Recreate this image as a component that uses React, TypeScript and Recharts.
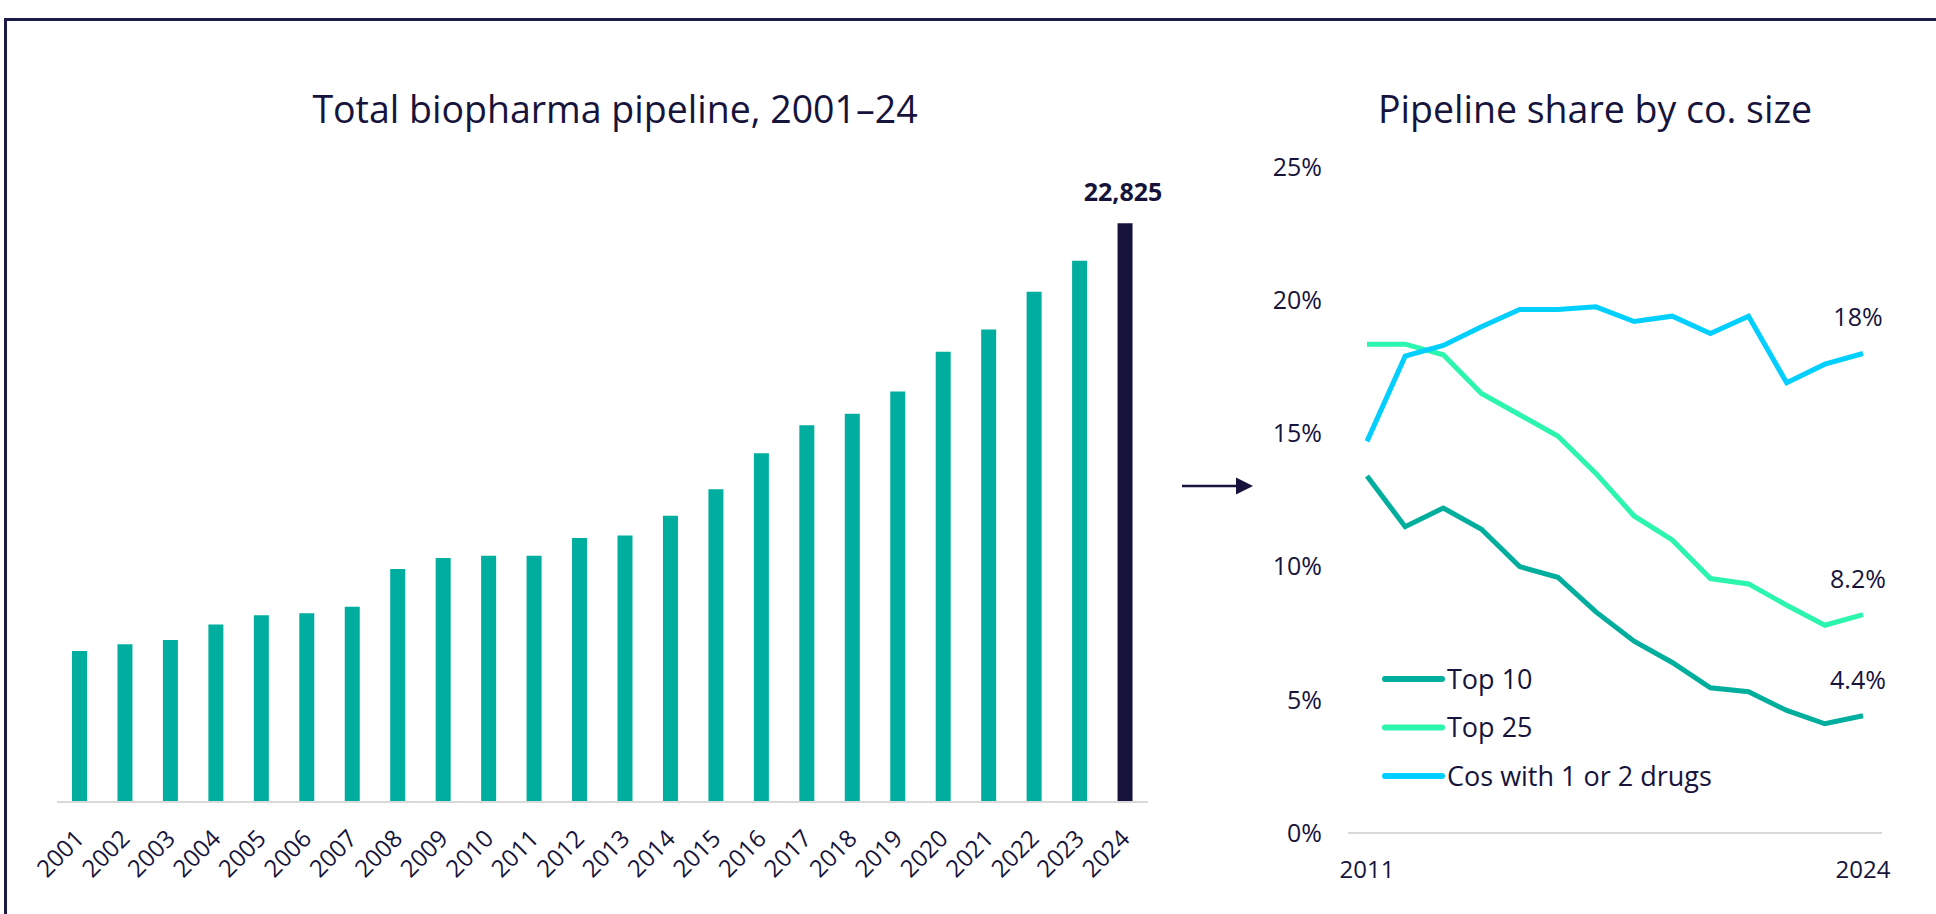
import { BarChart, Bar, LineChart, Line, XAxis, YAxis, Cell, LabelList } from 'recharts';

const FONT = '"Open Sans", sans-serif';
const NAVY = '#16143c';
const TEAL = '#00ae9f';
const GRID = '#d9d9d9';

// left panel: total pipeline (number of drugs)
const barYears = [
  '2001', '2002', '2003', '2004', '2005', '2006', '2007', '2008', '2009', '2010', '2011', '2012',
  '2013', '2014', '2015', '2016', '2017', '2018', '2019', '2020', '2021', '2022', '2023', '2024',
];
const pipelineCounts = [
  5950, 6220, 6390, 7000, 7360, 7440, 7700, 9190, 9620, 9710, 9710, 10410,
  10510, 11290, 12330, 13750, 14860, 15310, 16190, 17750, 18630, 20120, 21340, 22825,
];

// right panel: share of pipeline (%)
const shareYears = ['2011', '2012', '2013', '2014', '2015', '2016', '2017', '2018', '2019', '2020', '2021', '2022', '2023', '2024'];
const top10Share = [13.4, 11.5, 12.2, 11.4, 10.0, 9.6, 8.3, 7.2, 6.4, 5.45, 5.3, 4.6, 4.1, 4.4];
const top25Share = [18.35, 18.35, 17.95, 16.5, 15.7, 14.9, 13.5, 11.9, 11.0, 9.55, 9.35, 8.55, 7.8, 8.2];
const smallCoShare = [14.7, 17.9, 18.3, 19.0, 19.65, 19.65, 19.75, 19.2, 19.4, 18.75, 19.4, 16.9, 17.6, 18.0];
const shareTicks = [0, 5, 10, 15, 20, 25];

const shareSeries = [
  { key: 'top10', name: 'Top 10', color: '#00ae9e', endLabel: '4.4%' },
  { key: 'top25', name: 'Top 25', color: '#2cf5ae', endLabel: '8.2%' },
  { key: 'small', name: 'Cos with 1 or 2 drugs', color: '#00cfff', endLabel: '18%' },
];

const barData = barYears.map((year, i) => ({ year, count: pipelineCounts[i] }));
const shareData = shareYears.map((year, i) => ({
  year,
  top10: top10Share[i],
  top25: top25Share[i],
  small: smallCoShare[i],
}));

const YearTick = ({ x, y, payload }: any) => (
  <text
    x={x + 6}
    y={y + 30}
    transform={`rotate(-45, ${x + 6}, ${y + 30})`}
    textAnchor="end"
    fill={NAVY}
    fontSize={24}
    fontFamily={FONT}
  >
    {payload.value}
  </text>
);

const EndYearTick = ({ x, y, payload }: any) => {
  const v = payload.value;
  if (v !== shareYears[0] && v !== shareYears[shareYears.length - 1]) return <g />;
  return (
    <text x={x} y={y + 37} textAnchor="middle" fill={NAVY} fontSize={24} fontFamily={FONT}>
      {v}
    </text>
  );
};

const TotalLabel = (props: any) => {
  const { x, y, width, value, index } = props;
  if (index !== pipelineCounts.length - 1) return null;
  return (
    <text
      x={x + width / 2 - 2}
      y={y - 22}
      textAnchor="middle"
      fill={NAVY}
      fontSize={25}
      fontWeight={700}
      fontFamily={FONT}
    >
      {Number(value).toLocaleString('en-US')}
    </text>
  );
};

const endLabelFor = (label: string) => (props: any) => {
  const { x, y, index } = props;
  if (index !== shareYears.length - 1) return null;
  return (
    <text x={x - 5} y={y - 27} textAnchor="middle" fill={NAVY} fontSize={25} fontFamily={FONT}>
      {label}
    </text>
  );
};

export default function App() {
  return (
    <div style={{ position: 'absolute', left: 0, top: 0, width: 1936, height: 914, background: '#fff', overflow: 'hidden' }}>
      <div
        style={{
          position: 'absolute',
          left: 4,
          top: 18,
          width: 1940,
          height: 900,
          borderTop: '3px solid #1c1a48',
          borderLeft: '3px solid #1c1a48',
        }}
      />

      <BarChart
        width={1200}
        height={914}
        data={barData}
        margin={{ top: 168, left: 57, right: 52, bottom: 52 }}
        style={{ position: 'absolute', left: 0, top: 0 }}
      >
        <XAxis
          dataKey="year"
          interval={0}
          height={60}
          axisLine={{ stroke: GRID, strokeWidth: 2 }}
          tickLine={false}
          tick={<YearTick />}
        />
        <YAxis hide width={0} domain={[0, 25000]} />
        <Bar dataKey="count" barSize={15} isAnimationActive={false}>
          {barData.map((d, i) => (
            <Cell key={d.year} fill={i === barData.length - 1 ? NAVY : TEAL} />
          ))}
          <LabelList dataKey="count" content={TotalLabel} />
        </Bar>
      </BarChart>

      <LineChart
        width={736}
        height={914}
        data={shareData}
        margin={{ top: 167, left: 88, right: 54, bottom: 41 }}
        style={{ position: 'absolute', left: 1200, top: 0 }}
      >
        <XAxis
          dataKey="year"
          interval={0}
          height={40}
          padding={{ left: 19, right: 19 }}
          axisLine={{ stroke: GRID, strokeWidth: 2 }}
          tickLine={false}
          tick={<EndYearTick />}
        />
        <YAxis
          width={60}
          domain={[0, 25]}
          ticks={shareTicks}
          tickFormatter={(v: number) => `${v}%`}
          axisLine={false}
          tickLine={false}
          tickMargin={20}
          tick={{ fill: NAVY, fontSize: 25, fontFamily: FONT }}
        />
        {shareSeries.map((s) => (
          <Line
            key={s.key}
            dataKey={s.key}
            stroke={s.color}
            strokeWidth={5}
            dot={false}
            activeDot={false}
            isAnimationActive={false}
          >
            <LabelList dataKey={s.key} content={endLabelFor(s.endLabel)} />
          </Line>
        ))}
      </LineChart>

      <svg width={1936} height={914} style={{ position: 'absolute', left: 0, top: 0, pointerEvents: 'none' }}>
        <text x={615} y={123} textAnchor="middle" fill={NAVY} fontSize={37.5} fontWeight={500} fontFamily={FONT}>
          Total biopharma pipeline, 2001–24
        </text>
        <text x={1595} y={123} textAnchor="middle" fill={NAVY} fontSize={37.5} fontWeight={500} fontFamily={FONT}>
          Pipeline share by co. size
        </text>

        <line x1={1182} y1={486} x2={1238} y2={486} stroke={NAVY} strokeWidth={2.5} />
        <polygon points="1236,477.5 1253,486 1236,494.5" fill={NAVY} />

        {shareSeries.map((s, i) => (
          <g key={s.key}>
            <line x1={1385} x2={1442} y1={679 + i * 48.5} y2={679 + i * 48.5} stroke={s.color} strokeWidth={6} strokeLinecap="round" />
            <text x={1447} y={679 + i * 48.5 + 9.5} fill={NAVY} fontSize={27} fontFamily={FONT}>
              {s.name}
            </text>
          </g>
        ))}
      </svg>
    </div>
  );
}
